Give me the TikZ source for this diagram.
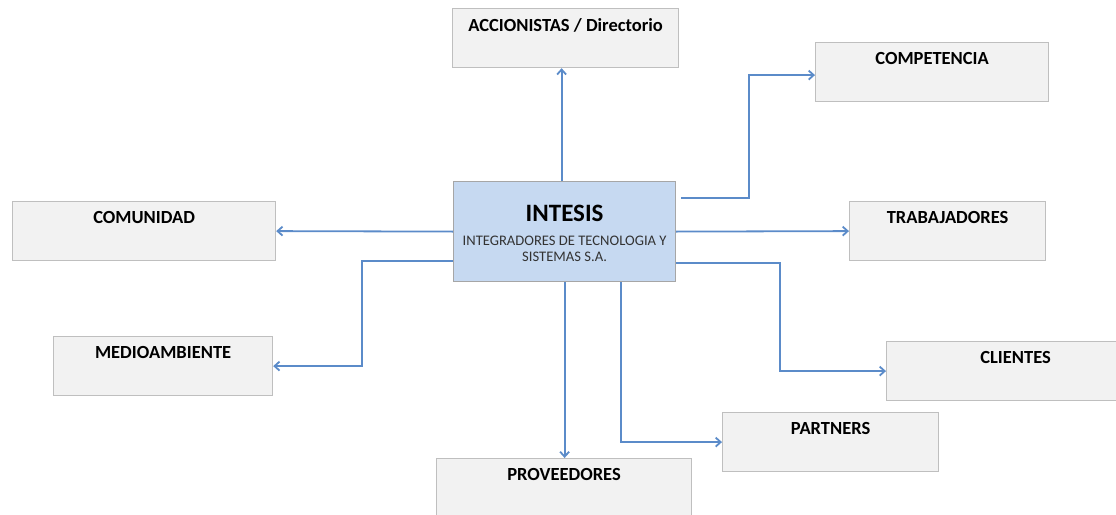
\documentclass[tikz,border=0pt]{standalone}
\usepackage{fontspec}
\setmainfont{Carlito}
\usetikzlibrary{arrows.meta, positioning}

\definecolor{boxfill}{RGB}{242,242,242}
\definecolor{boxline}{RGB}{191,191,191}
\definecolor{corefill}{RGB}{198,217,241}
\definecolor{coreline}{RGB}{166,166,166}
\definecolor{linkblue}{RGB}{91,139,201}

\tikzset{
    party/.style={draw=boxline, fill=boxfill, line width=1.2pt, inner sep=0pt,
        minimum height=59pt, anchor=north west},
    partytext/.style={anchor=north, inner sep=0pt, yshift=-10pt,
        font=\bfseries\fontsize{18.5}{22}\selectfont},
    link/.style={draw=linkblue, line width=1.8pt, -{Straight Barb[length=5pt,width=9pt]}}
}

\begin{document}
\begin{tikzpicture}[x=1pt,y=-1pt]
    \useasboundingbox (0,0) rectangle (1116,514);

    \node[draw=coreline, fill=corefill, line width=1.2pt, minimum width=222pt, minimum height=100pt,
        inner sep=0pt, anchor=north west] (intesis) at (453,181) {};
    \node[anchor=north, inner sep=0pt, font=\bfseries\fontsize{25}{30}\selectfont]
        (intesisname) at ([yshift=-24pt]intesis.north) {INTESIS};
    \node[below=14pt of intesisname, inner sep=0pt, align=center,
        text=black!80, font=\fontsize{14.6}{16}\selectfont] (intesissub)
        {INTEGRADORES DE TECNOLOGIA Y\\SISTEMAS S.A.};

    \node[party, minimum width=226pt, label={[partytext]north:ACCIONISTAS / Directorio}] (accionistas) at (452,8) {};
    \node[party, minimum width=233pt, label={[partytext]north:COMPETENCIA}] (competencia) at (815,42) {};
    \node[party, minimum width=263pt, label={[partytext]north:COMUNIDAD}] (comunidad) at (12,201) {};
    \node[party, minimum width=196pt, label={[partytext]north:TRABAJADORES}] (trabajadores) at (849,201) {};
    \node[party, minimum width=219pt, label={[partytext]north:MEDIOAMBIENTE}] (medioambiente) at (53,336) {};
    \node[party, minimum width=230pt, label={[partytext,xshift=14pt]north:CLIENTES}] (clientes) at (886,341) {};
    \node[party, minimum width=216pt, label={[partytext]north:PARTNERS}] (partners) at (722,412) {};
    \node[party, minimum width=255pt, label={[partytext]north:PROVEEDORES}] (proveedores) at (436,458) {};

    \draw[link] ([xshift=-3pt]intesis.north) -- ([xshift=-3pt]intesis.north |- accionistas.south);
    \draw[link] ([xshift=5pt,yshift=-17pt]intesis.north east) -- ++(68,0) |- ([yshift=-3pt]competencia.west);
    \draw[link] (intesis.west) -- (comunidad.east);
    \draw[link] ([yshift=-29pt]intesis.west) -- ++(-91,0) |- (medioambiente.east);
    \draw[link] (intesis.east) -- (trabajadores.west);
    \draw[link] ([yshift=-31pt]intesis.east) -- ++(104,0) |- (clientes.west);
    \draw[link] ([xshift=56pt]intesis.south) |- (partners.west);
    \draw[link] (intesis.south) -- (intesis.south |- proveedores.north);
\end{tikzpicture}
\end{document}
